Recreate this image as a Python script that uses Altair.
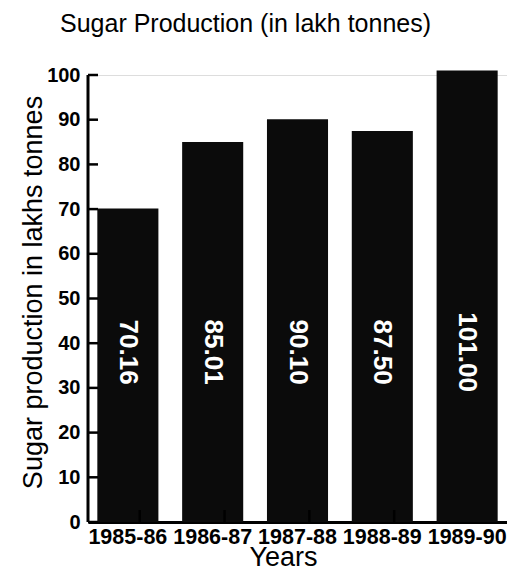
import altair as alt
import pandas as pd

years = ["1985-86", "1986-87", "1987-88", "1988-89", "1989-90"]
production = [70.16, 85.01, 90.10, 87.50, 101.00]
labels = ["70.16", "85.01", "90.10", "87.50", "101.00"]
y_ticks = [0, 10, 20, 30, 40, 50, 60, 70, 80, 90, 100]

W, H = 419, 447
P_IN, P_OUT = 0.28, 0.11
STEP = W / (5 - P_IN + 2 * P_OUT)

df = pd.DataFrame({"Year": years, "Production": production, "Label": labels})
tick_df = pd.DataFrame({"v": y_ticks})
bound_df = pd.DataFrame({"Year": years[:-1]})

FONT = "Liberation Sans"

xscale = alt.Scale(domain=years, paddingInner=P_IN, paddingOuter=P_OUT)
yscale = alt.Scale(domain=[0, 100], nice=False)

bars = alt.Chart(df).mark_bar(color="#0b0b0b", clip=False).encode(
    x=alt.X("Year:N", scale=xscale, sort=years,
            axis=alt.Axis(title="Years", labelAngle=0, labelFontSize=21.5, labelFontWeight="bold",
                          labelFont=FONT, labelColor="black", labelPadding=4, tickSize=0,
                          domainColor="black", domainWidth=3, titleFont=FONT, titleFontSize=27,
                          titleFontWeight="normal", titleColor="black", titleBaseline="alphabetic",
                          titleY=43, titleX=283 - 88, titleAlign="center")),
    y=alt.Y("Production:Q", scale=yscale,
            axis=alt.Axis(title="Sugar production in lakhs tonnes", values=y_ticks, grid=False,
                          labelFontSize=20, labelFontWeight="bold", labelFont=FONT, labelColor="black",
                          labelPadding=8, tickSize=0, domain=False,
                          titleFont=FONT, titleFontSize=27, titleFontWeight="normal", titleColor="black",
                          titleAngle=-90, titleBaseline="middle", titleAlign="center",
                          titleX=33 - 88, titleY=292 - 75)),
)

text = alt.Chart(df).mark_text(color="white", fontSize=26, fontWeight="bold", font=FONT,
                               angle=90, align="center", baseline="middle").encode(
    x=alt.X("Year:N", scale=xscale, sort=years),
    y=alt.datum(38),
    text="Label:N",
)

yaxis_line = alt.Chart(pd.DataFrame({"a": [0], "b": [100]})).mark_rule(color="black", strokeWidth=3).encode(
    x=alt.value(0), y=alt.Y("a:Q", scale=yscale), y2="b:Q"
)

yticks = alt.Chart(tick_df).mark_rule(color="black", strokeWidth=2.5).encode(
    x=alt.value(0), x2=alt.value(10), y=alt.Y("v:Q", scale=yscale)
)

xticks = alt.Chart(bound_df).mark_rule(color="black", strokeWidth=2.5).encode(
    x=alt.X("Year:N", scale=xscale, sort=years),
    xOffset=alt.value(STEP / 2),
    y=alt.value(H), y2=alt.value(H - 12),
)

chart = alt.layer(bars, text, yaxis_line, yticks, xticks).properties(
    width=W, height=H,
    title=alt.TitleParams("Sugar Production (in lakh tonnes)", font=FONT, fontSize=25,
                          fontWeight="normal", color="black", anchor="start", frame="group",
                          dx=60 - 88, offset=8, baseline="alphabetic"),
    autosize=alt.AutoSizeParams(type="none"),
    padding={"left": 80, "top": 67, "right": 0, "bottom": 52},
).configure_view(stroke=None).configure(background="white")

chart.save("out.html", embed_options={"renderer": "svg", "actions": False})
